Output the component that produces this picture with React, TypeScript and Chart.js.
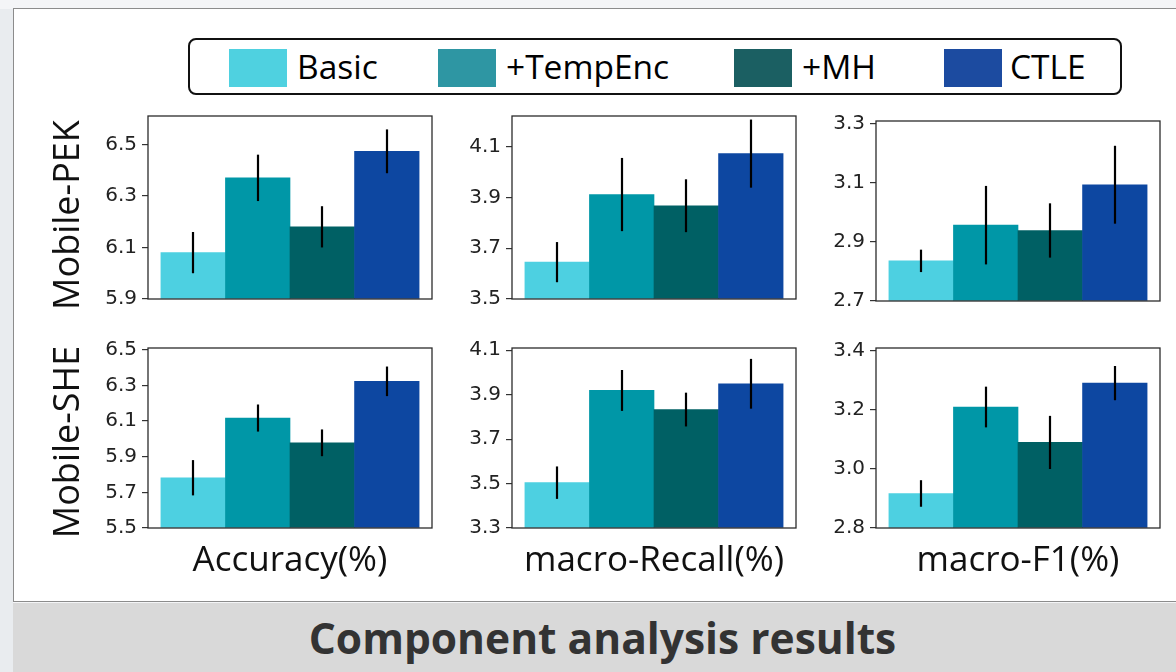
import React, { useEffect, useRef } from 'react';
import { Chart, registerables } from 'chart.js';

Chart.register(...registerables);

// ---------- data ----------
const seriesNames = ['Basic', '+TempEnc', '+MH', 'CTLE'];
const barColors = ['#4dd0e1', '#0097a7', '#006064', '#0d47a1'];
const legendColors = ['#4fd1e0', '#2e96a3', '#1b5f62', '#1c4ba0'];
const rowLabels = ['Mobile-PEK', 'Mobile-SHE'];
const metricLabels = ['Accuracy(%)', 'macro-Recall(%)', 'macro-F1(%)'];
const captionText = 'Component analysis results';
const barPositions = [0, 1, 2, 3];

const pekAccuracy = [6.08, 6.37, 6.18, 6.473];
const pekAccuracyErr = [0.08, 0.09, 0.08, 0.085];
const pekRecall = [3.645, 3.911, 3.867, 4.072];
const pekRecallErr = [0.079, 0.144, 0.104, 0.134];
const pekF1 = [2.836, 2.957, 2.939, 3.094];
const pekF1Err = [0.038, 0.133, 0.092, 0.132];

const sheAccuracy = [5.782, 6.117, 5.978, 6.323];
const sheAccuracyErr = [0.099, 0.076, 0.075, 0.083];
const sheRecall = [3.504, 3.919, 3.833, 3.949];
const sheRecallErr = [0.073, 0.092, 0.076, 0.112];
const sheF1 = [2.917, 3.21, 3.09, 3.291];
const sheF1Err = [0.045, 0.069, 0.09, 0.058];

const pekAccuracyTicks = [5.9, 6.1, 6.3, 6.5];
const pekRecallTicks = [3.5, 3.7, 3.9, 4.1];
const pekF1Ticks = [2.7, 2.9, 3.1, 3.3];
const sheAccuracyTicks = [5.5, 5.7, 5.9, 6.1, 6.3, 6.5];
const sheRecallTicks = [3.3, 3.5, 3.7, 3.9, 4.1];
const sheF1Ticks = [2.8, 3.0, 3.2, 3.4];

const pekAccuracyRange = [5.9, 6.61];
const pekRecallRange = [3.5, 4.22];
const pekF1Range = [2.7, 3.31];
const sheAccuracyRange = [5.5, 6.51];
const sheRecallRange = [3.3, 4.11];
const sheF1Range = [2.8, 3.41];

// ---------- layout ----------
const AX = 70;
const PT = 14;
const PB = 14;
const PR = 6;
const TICK_FONT = 'DejaVu Sans';
const SANS = '"Open Sans", "Noto Sans", sans-serif';

type PanelProps = {
  values: number[];
  errors: number[];
  range: number[];
  ticks: number[];
  left: number;
  top: number;
  width: number;
  height: number;
};

function Panel({ values, errors, range, ticks, left, top, width, height }: PanelProps) {
  const ref = useRef<HTMLCanvasElement | null>(null);
  useEffect(() => {
    if (!ref.current) return;
    const errorBars = {
      id: 'errorBars',
      afterDatasetsDraw(chart: any) {
        const { ctx } = chart;
        const x = chart.scales.x;
        const y = chart.scales.y;
        ctx.save();
        ctx.strokeStyle = '#000';
        ctx.lineWidth = 2.2;
        values.forEach((v, i) => {
          const px = Math.round(x.getPixelForValue(barPositions[i]));
          ctx.beginPath();
          ctx.moveTo(px, y.getPixelForValue(v - errors[i]));
          ctx.lineTo(px, y.getPixelForValue(v + errors[i]));
          ctx.stroke();
        });
        ctx.restore();
      },
    };
    const frame = {
      id: 'frame',
      afterDraw(chart: any) {
        const { ctx, chartArea: a } = chart;
        ctx.save();
        ctx.strokeStyle = '#2b2b2b';
        ctx.lineWidth = 1.3;
        ctx.strokeRect(a.left, a.top, a.right - a.left, a.bottom - a.top);
        ctx.restore();
      },
    };
    const chart = new Chart(ref.current, {
      type: 'bar',
      data: {
        datasets: [
          {
            data: values.map((v, i) => ({ x: barPositions[i], y: v })),
            backgroundColor: barColors,
            borderWidth: 0,
            barPercentage: 1,
            categoryPercentage: 1,
            base: range[0],
          } as any,
        ],
      },
      options: {
        responsive: false,
        animation: false,
        devicePixelRatio: 1,
        layout: {
          autoPadding: false,
          padding: { left: 0, top: PT, right: PR, bottom: PB },
        } as any,
        plugins: { legend: { display: false }, tooltip: { enabled: false } },
        scales: {
          x: {
            type: 'linear',
            display: false,
            min: -0.7,
            max: 3.7,
            offset: false,
            afterBuildTicks(s: any) {
              s.ticks = barPositions.map((v) => ({ value: v }));
            },
          },
          y: {
            type: 'linear',
            min: range[0],
            max: range[1],
            afterFit(s: any) {
              s.width = AX;
            },
            afterBuildTicks(s: any) {
              s.ticks = ticks.map((v) => ({ value: v }));
            },
            ticks: {
              autoSkip: false,
              callback: (v: any) => Number(v).toFixed(1),
              font: { family: TICK_FONT, size: 20 },
              color: '#222',
              padding: 5,
            },
            grid: {
              drawOnChartArea: false,
              drawTicks: true,
              tickLength: 6,
              color: '#333',
              lineWidth: 1.2,
            },
            border: { display: false },
          },
        },
      },
      plugins: [errorBars, frame],
    } as any);
    return () => chart.destroy();
  }, []);
  const cw = width + AX + PR;
  const ch = height + PT + PB;
  return (
    <canvas
      ref={ref}
      width={cw}
      height={ch}
      style={{ position: 'absolute', left: left - AX, top: top - PT, width: cw, height: ch }}
    />
  );
}

const panels = [
  { values: pekAccuracy, errors: pekAccuracyErr, range: pekAccuracyRange, ticks: pekAccuracyTicks, left: 148, top: 113, width: 284, height: 189 },
  { values: pekRecall, errors: pekRecallErr, range: pekRecallRange, ticks: pekRecallTicks, left: 512, top: 113, width: 284, height: 189 },
  { values: pekF1, errors: pekF1Err, range: pekF1Range, ticks: pekF1Ticks, left: 876, top: 118, width: 284, height: 186 },
  { values: sheAccuracy, errors: sheAccuracyErr, range: sheAccuracyRange, ticks: sheAccuracyTicks, left: 148, top: 345, width: 284, height: 186 },
  { values: sheRecall, errors: sheRecallErr, range: sheRecallRange, ticks: sheRecallTicks, left: 512, top: 345, width: 284, height: 186 },
  { values: sheF1, errors: sheF1Err, range: sheF1Range, ticks: sheF1Ticks, left: 876, top: 345, width: 284, height: 186 },
];

const legendPatchX = [229, 438, 734, 944];
const legendTextX = [297, 506, 802, 1010];
const titleCenters = [290, 654, 1018];
const rowCenters = [215, 442];

export default function App() {
  return (
    <div
      style={{
        position: 'absolute',
        left: 0,
        top: 0,
        width: 1176,
        height: 672,
        overflow: 'hidden',
        background: '#f4f5f7',
        fontFamily: SANS,
      }}
    >
      <div style={{ position: 'absolute', left: 0, top: 9, width: 13, height: 663, background: '#e9ecef' }} />
      <div
        style={{
          position: 'absolute',
          left: 13,
          top: 8,
          width: 1180,
          height: 594,
          background: '#ffffff',
          border: '1.5px solid #8c8c8c',
          boxSizing: 'border-box',
        }}
      />
      <div
        style={{
          position: 'absolute',
          left: 13,
          top: 603,
          width: 1163,
          height: 69,
          background: '#d9d9d9',
        }}
      />
      <div
        style={{
          position: 'absolute',
          left: 13,
          width: 1163,
          top: 617,
          textAlign: 'center',
          fontSize: 42.5,
          lineHeight: '42.5px',
          fontWeight: 700,
          color: '#333',
          paddingLeft: 16,
          boxSizing: 'border-box',
          whiteSpace: 'nowrap',
        }}
      >
        {captionText}
      </div>

      {/* legend */}
      <div
        style={{
          position: 'absolute',
          left: 188,
          top: 38,
          width: 934,
          height: 57,
          border: '2px solid #111',
          borderRadius: 8,
          boxSizing: 'border-box',
        }}
      />
      {seriesNames.map((name, i) => (
        <React.Fragment key={name}>
          <div
            style={{
              position: 'absolute',
              left: legendPatchX[i],
              top: 49,
              width: 58,
              height: 38,
              background: legendColors[i],
            }}
          />
          <div
            style={{
              position: 'absolute',
              left: legendTextX[i],
              top: 50,
              fontSize: 33.5,
              lineHeight: '33.5px',
              color: '#000',
              whiteSpace: 'nowrap',
            }}
          >
            {name}
          </div>
        </React.Fragment>
      ))}

      {panels.map((p, i) => (
        <Panel key={i} {...p} />
      ))}

      {rowLabels.map((label, i) => (
        <div
          key={label}
          style={{
            position: 'absolute',
            left: 66,
            top: rowCenters[i],
            transform: 'translate(-50%, -50%) rotate(-90deg)',
            fontSize: 36,
            lineHeight: '36px',
            color: '#111',
            whiteSpace: 'nowrap',
          }}
        >
          {label}
        </div>
      ))}

      {metricLabels.map((label, i) => (
        <div
          key={label}
          style={{
            position: 'absolute',
            left: titleCenters[i],
            top: 540,
            transform: 'translateX(-50%)',
            fontSize: 35,
            lineHeight: '35px',
            color: '#111',
            whiteSpace: 'nowrap',
          }}
        >
          {label}
        </div>
      ))}
    </div>
  );
}
